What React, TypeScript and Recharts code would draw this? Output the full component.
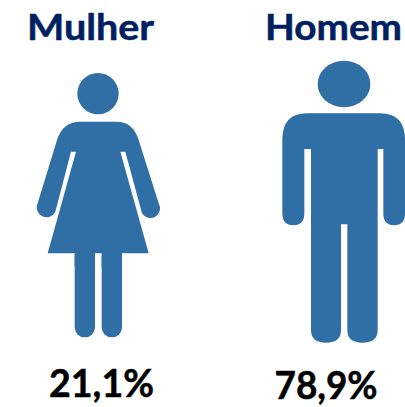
import { ComposedChart, Line, XAxis, YAxis } from "recharts";

const categories = ["Mulher", "Homem"];
const shares = [21.1, 78.9];
const data = categories.map((category, i) => ({ category, share: shares[i] }));

const BLUE = "#306ea6";
const NAVY = "#002060";
const FONT = "Lato, Carlito, sans-serif";

// tick offsets, the text does not sit exactly under the icons
const nameDx = [-7.5, -10.5];
const nameWidth = [127, 137];
const shareDx = [3.5, -18];
const shareWidth = [105, 103];
const shareBaseline = [397, 399];

const formatShare = (v: number) => v.toFixed(1).replace(".", ",") + "%";

const WomanIcon = () => (
  <g fill={BLUE}>
    <circle cx={0} cy={281} r={62} />
    <path d="M-53 365 L57 365 Q105 365 122 420 L182 610 A27 27 0 0 1 132 640 L82 455 L67 455 L152 760 L-151 760 L-66 455 L-81 455 L-128 635 A27 27 0 0 1 -181 610 L-123 420 Q-106 365 -53 365 Z" />
    <rect x={-70} y={740} width={61} height={272} rx={30} />
    <rect x={11} y={740} width={61} height={272} rx={30} />
    <rect x={-70} y={740} width={61} height={60} />
    <rect x={11} y={740} width={61} height={60} />
  </g>
);

const ManIcon = () => (
  <g fill={BLUE}>
    <ellipse cx={0} cy={252} rx={79} ry={70} />
    <path d="M-112 340 L108 340 Q183 340 183 420 L183 640 Q183 676 150 676 Q118 676 118 640 L118 447 L101 447 L101 990 Q101 1028 55 1028 Q10 1028 10 990 L10 673 L-9 673 L-9 990 Q-9 1028 -54 1028 Q-99 1028 -99 990 L-99 447 L-119 447 L-119 640 Q-119 676 -152 676 Q-185 676 -185 640 L-185 420 Q-185 340 -112 340 Z" />
  </g>
);

const icons = [WomanIcon, ManIcon];

const IconDot = (props: any) => {
  const Icon = icons[props.index];
  return (
    <g key={props.index} transform={`translate(${props.cx},0) scale(${1 / 3})`}>
      <Icon />
    </g>
  );
};

const NameTick = (props: any) => (
  <text
    x={props.x + nameDx[props.index]}
    y={40}
    textAnchor="middle"
    fontFamily={FONT}
    fontWeight={700}
    fontSize={36}
    fill={NAVY}
    stroke={NAVY}
    strokeWidth={0.5}
    textLength={nameWidth[props.index]}
    lengthAdjust="spacingAndGlyphs"
  >
    {props.payload.value}
  </text>
);

const ShareTick = (props: any) => (
  <text
    x={props.x + shareDx[props.index]}
    y={shareBaseline[props.index]}
    textAnchor="middle"
    fontFamily={FONT}
    fontWeight={700}
    fontSize={38}
    fill="#000000"
    stroke="#000000"
    strokeWidth={0.5}
    textLength={shareWidth[props.index]}
    lengthAdjust="spacingAndGlyphs"
  >
    {formatShare(props.payload.value)}
  </text>
);

export default function App() {
  return (
    <div style={{ position: "absolute", left: 0, top: 0 }}>
      <ComposedChart
        width={405}
        height={407}
        data={data}
        margin={{ top: 0, right: 0, bottom: 0, left: 0 }}
      >
        <XAxis
          dataKey="category"
          orientation="top"
          scale="point"
          padding={{ left: 98, right: 61 }}
          height={44}
          interval={0}
          axisLine={false}
          tickLine={false}
          tick={NameTick}
        />
        <XAxis
          xAxisId="share"
          dataKey="share"
          orientation="bottom"
          scale="point"
          padding={{ left: 98, right: 61 }}
          height={44}
          interval={0}
          axisLine={false}
          tickLine={false}
          tick={ShareTick}
        />
        <YAxis hide domain={[0, 100]} />
        <Line
          dataKey="share"
          stroke="none"
          dot={IconDot}
          activeDot={false}
          isAnimationActive={false}
        />
      </ComposedChart>
    </div>
  );
}
